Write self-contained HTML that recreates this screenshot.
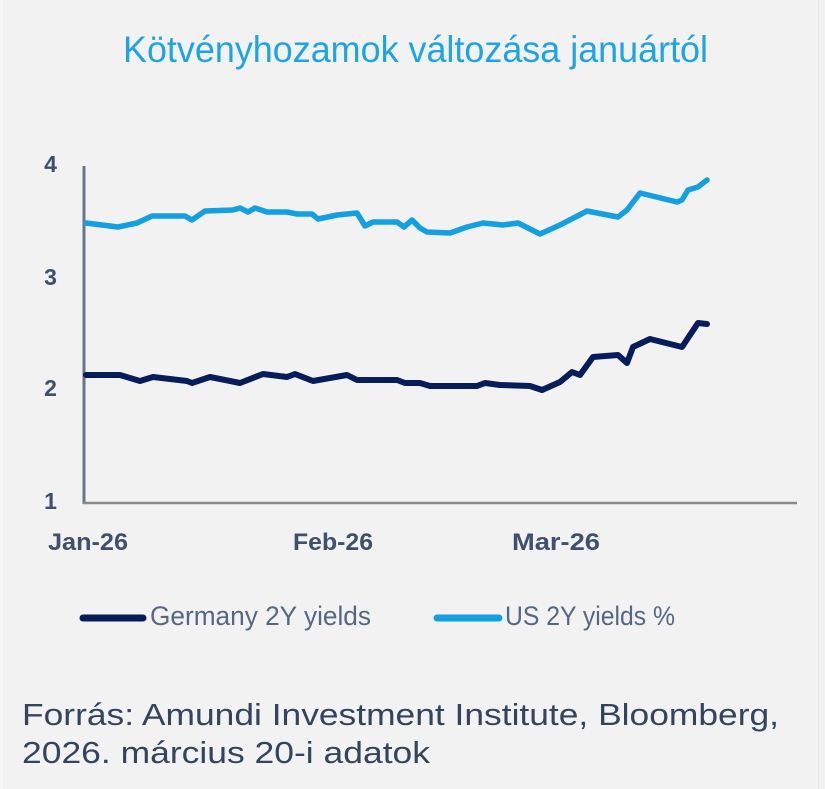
<!DOCTYPE html>
<html>
<head>
<meta charset="utf-8">
<style>
  html, body { margin: 0; padding: 0; background: #f2f2f2; }
  svg { display: block; }
  text { font-family: "Liberation Sans", "DejaVu Sans", sans-serif; }
</style>
</head>
<body>
<svg width="825" height="789" viewBox="0 0 825 789" xmlns="http://www.w3.org/2000/svg">
  <rect x="0" y="0" width="825" height="789" fill="#f2f2f2"/>
  <rect x="0" y="0" width="3" height="789" fill="#f7f7f7"/>
  <rect x="818" y="0" width="1" height="789" fill="#e9e9e9"/>

  <!-- Title -->
  <text x="123" y="62" font-size="37" fill="#1ea4e3" textLength="585" lengthAdjust="spacingAndGlyphs">Kötvényhozamok változása januártól</text>

  <!-- Y tick labels -->
  <g font-size="23" font-weight="bold" fill="#3e506b" text-anchor="middle">
    <text x="50.5" y="172">4</text>
    <text x="50.5" y="285">3</text>
    <text x="50.5" y="396">2</text>
    <text x="50.5" y="509">1</text>
  </g>

  <!-- Axes -->
  <line x1="84" y1="166" x2="84" y2="504" stroke="#66758d" stroke-width="3"/>
  <line x1="83" y1="503" x2="797" y2="503" stroke="#8a8a8a" stroke-width="2.5"/>

  <!-- X tick labels -->
  <g font-size="24" font-weight="bold" fill="#3e506b">
    <text x="48" y="550" textLength="80" lengthAdjust="spacingAndGlyphs">Jan-26</text>
    <text x="293" y="550" textLength="80" lengthAdjust="spacingAndGlyphs">Feb-26</text>
    <text x="512" y="550" textLength="88" lengthAdjust="spacingAndGlyphs">Mar-26</text>
  </g>

  <!-- US 2Y -->
  <polyline fill="none" stroke="#12a0e3" stroke-width="5.5" stroke-linejoin="round" stroke-linecap="round"
    points="86,223 118,227 137,223 152,216 185,216 192,220 205,211 233,210 240,208 248,212 255,208 267,212 287,212 297,214 312,214 318,219 337,215 357,213 365,226 373,222 397,222 404,227 412,220 420,228 427,232 450,233 467,227 483,223 503,225 518,223 540,234 560,225 587,211 618,217 627,210 640,193 677,202 682,200 688,190 698,187 707,180"/>

  <!-- Germany 2Y -->
  <polyline fill="none" stroke="#071c5a" stroke-width="6" stroke-linejoin="round" stroke-linecap="round"
    points="86,375 120,375 140,381 153,377 187,381 192,383 210,377 240,383 263,374 287,377 295,374 313,381 347,375 357,380 397,380 405,383 420,383 430,386 477,386 485,383 500,385 530,386 542,390 560,382 572,372 580,375 593,357 618,355 627,363 633,347 650,339 682,347 698,323 707,324"/>

  <!-- Legend -->
  <line x1="83" y1="618" x2="143" y2="618" stroke="#071c5a" stroke-width="7" stroke-linecap="round"/>
  <text x="150" y="625" font-size="27" fill="#546884" textLength="221" lengthAdjust="spacingAndGlyphs">Germany 2Y yields</text>
  <line x1="437" y1="618" x2="499" y2="618" stroke="#12a0e3" stroke-width="7" stroke-linecap="round"/>
  <text x="505" y="625" font-size="27" fill="#546884" textLength="170" lengthAdjust="spacingAndGlyphs">US 2Y yields %</text>

  <!-- Footer -->
  <g font-size="31" fill="#33455d">
    <text x="22" y="725" textLength="757" lengthAdjust="spacingAndGlyphs">Forrás: Amundi Investment Institute, Bloomberg,</text>
    <text x="22" y="763" textLength="408" lengthAdjust="spacingAndGlyphs">2026. március 20-i adatok</text>
  </g>
</svg>
</body>
</html>
